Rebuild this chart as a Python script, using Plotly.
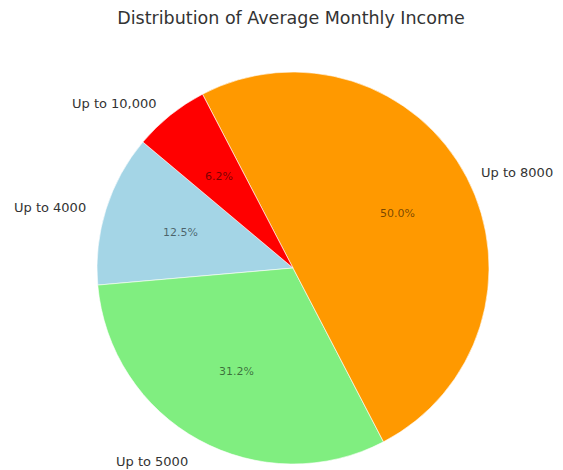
import math
import plotly.graph_objects as go

categories = ["Up to 4000", "Up to 5000", "Up to 8000", "Up to 10,000"]
counts = [2, 5, 8, 1]
colors = ["#a4d5e6", "#80ee80", "#ff9900", "#ff0000"]
start_angle = 140  # degrees, counterclockwise from 3 o'clock

W, H = 563, 470
OFF = 8  # page body margin in the browser
cx, cy, R = 293 - OFF, 268 - OFF, 196  # pie centre / radius in pixels

total = sum(counts)
# plotly (counterclockwise) places the end of the first slice at `rotation`
rotation = 90 - start_angle - 360 * counts[0] / total

fig = go.Figure(go.Pie(
    labels=categories, values=counts, sort=False,
    direction="counterclockwise", rotation=rotation,
    marker=dict(colors=colors, line=dict(color="white", width=0.6)),
    textinfo="none", hoverinfo="label+percent", showlegend=False,
    domain=dict(x=[(cx - R) / W, (cx + R) / W], y=[1 - (cy + R) / H, 1 - (cy - R) / H]),
))

ang = start_angle
ann = []
for cat, v in zip(categories, counts):
    span = 360 * v / total
    mid = math.radians(ang + span / 2)
    ang += span
    c, s = math.cos(mid), math.sin(mid)
    lx, ly = cx + 1.1 * R * c, cy - 1.1 * R * s
    right = c > 0
    ann.append(dict(x=lx / W, y=1 - ly / H, xref="paper", yref="paper", text=cat,
                    showarrow=False, xanchor="left" if right else "right", yanchor="middle",
                    borderpad=0, yshift=-4, xshift=-4 if right else 0,
                    font=dict(size=13, color="#333333", family="DejaVu Sans")))
    px, py = cx + 0.6 * R * c, cy - 0.6 * R * s
    ann.append(dict(x=px / W, y=1 - py / H, xref="paper", yref="paper",
                    text=f"{100 * v / total:.1f}%", showarrow=False,
                    xanchor="center", yanchor="middle",
                    font=dict(size=11, color="rgba(0,0,0,0.55)", family="DejaVu Sans")))

fig.update_layout(
    width=W, height=H,
    margin=dict(l=0, r=0, t=0, b=0),
    paper_bgcolor="white", plot_bgcolor="white",
    title=dict(text="Distribution of Average Monthly Income", x=(291 - OFF) / W, xanchor="center",
               y=1 - (18 - OFF) / H, yanchor="middle",
               font=dict(size=17.5, color="#333333", family="DejaVu Sans")),
    annotations=ann,
)
fig.write_html("out.html")
